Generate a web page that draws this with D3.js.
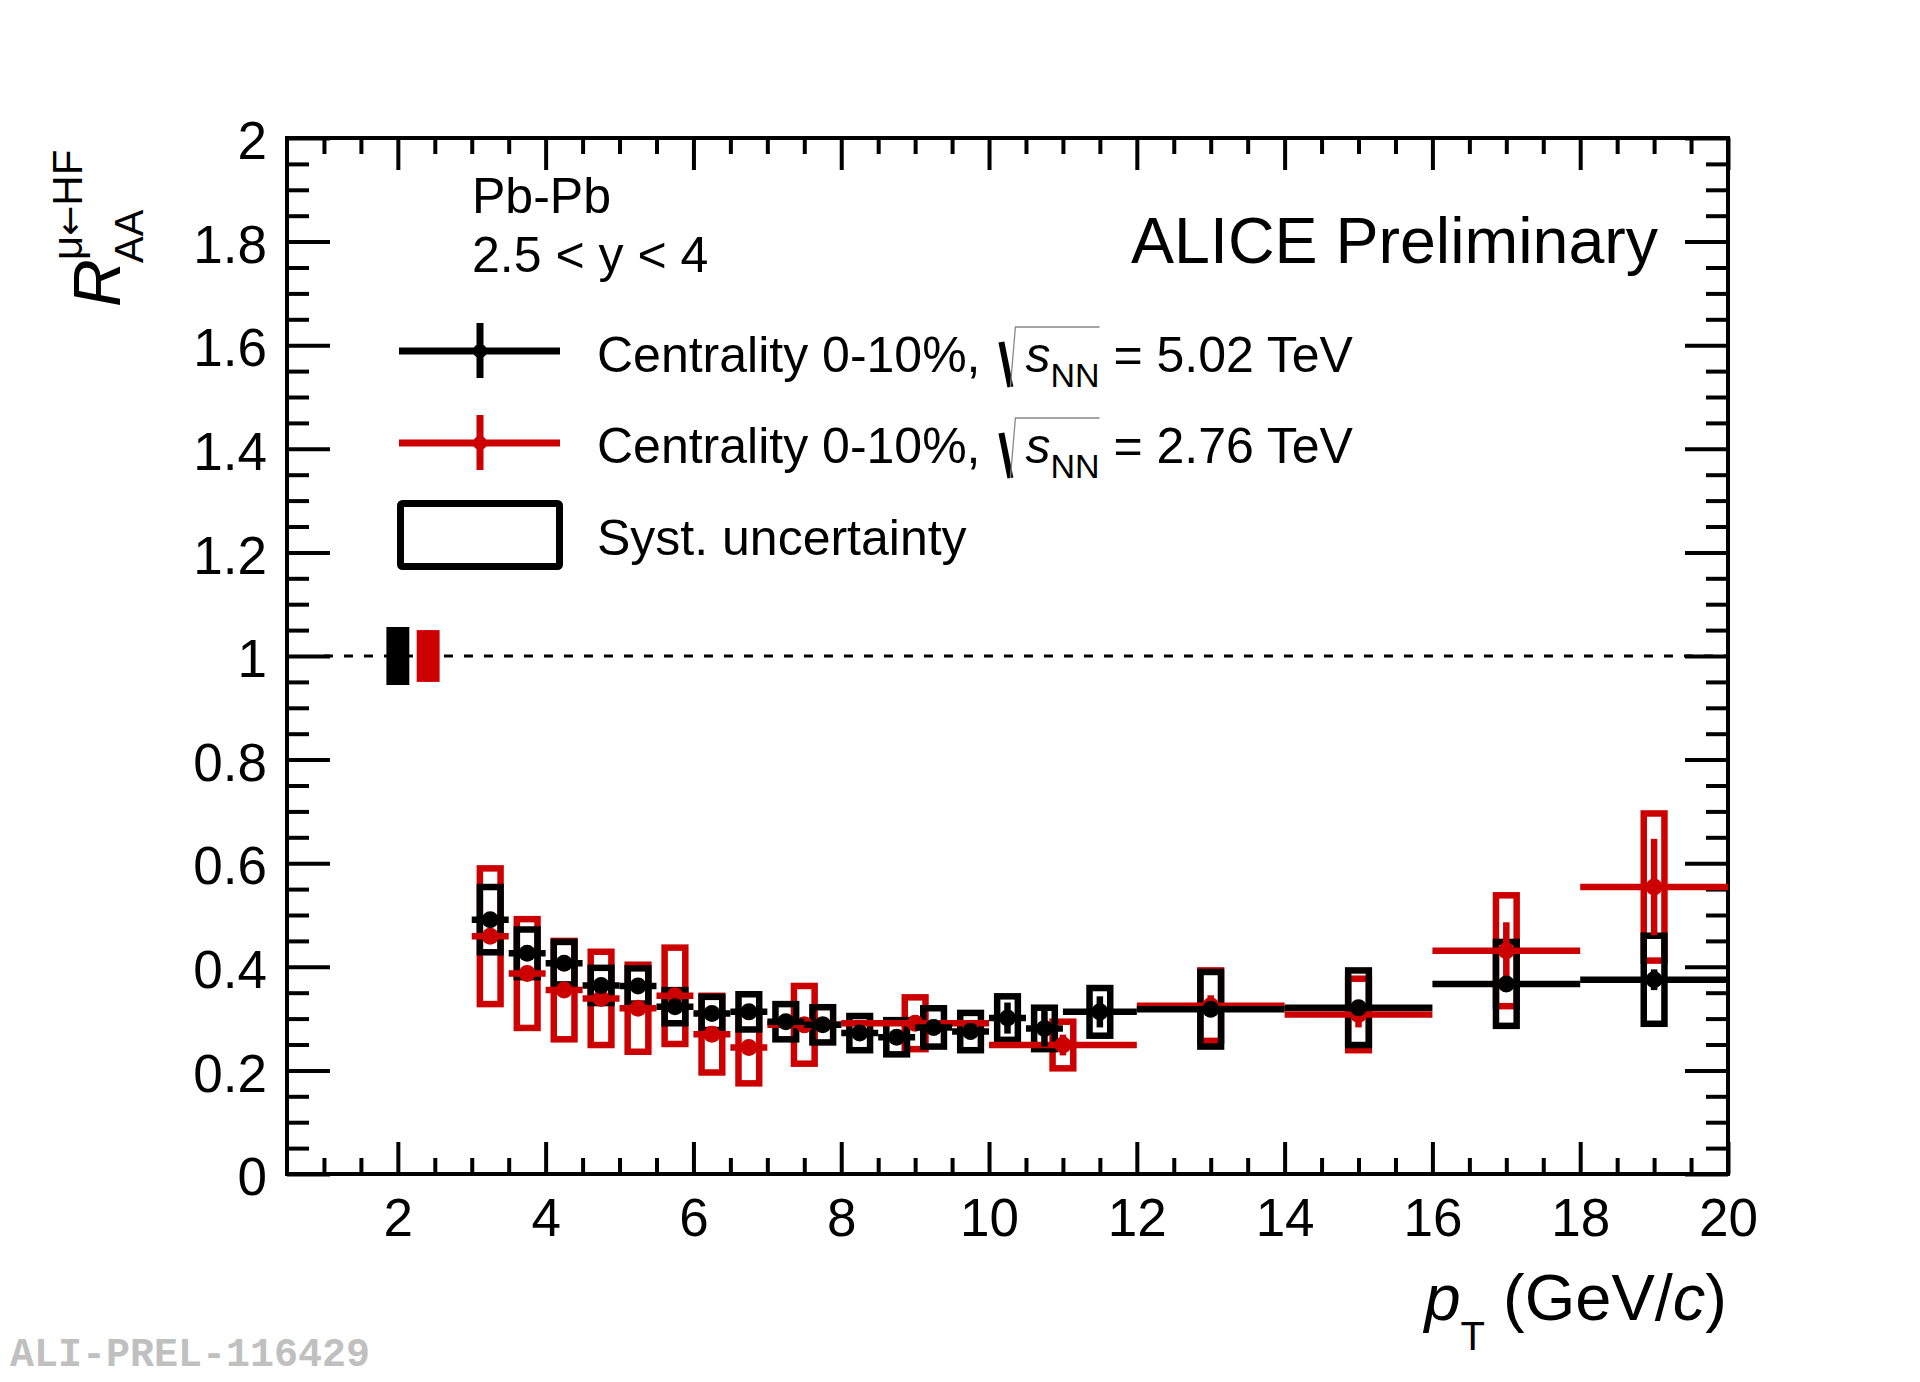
<!DOCTYPE html>
<html>
<head>
<meta charset="utf-8">
<script src="https://cdn.jsdelivr.net/npm/d3@7"></script>
<style>
  body { margin: 0; background: #fff; }
  svg { display: block; font-family: "Liberation Sans", Arial, Helvetica, sans-serif; }
</style>
</head>
<body>
<svg id="chart" width="1920" height="1382"></svg>
<script>
// 5.02 TeV, 0-10%
const ptBlack = [3.25, 3.75, 4.25, 4.75, 5.25, 5.75, 6.25, 6.75, 7.25, 7.75, 8.25, 8.75,
  9.25, 9.75, 10.25, 10.75, 11.5, 13, 15, 17, 19];
const binBlack = [0.25, 0.25, 0.25, 0.25, 0.25, 0.25, 0.25, 0.25, 0.25, 0.25, 0.25, 0.25,
  0.25, 0.25, 0.25, 0.25, 0.5, 1, 1, 1, 1];
const raaBlack = [0.491, 0.426, 0.407, 0.364, 0.363, 0.323, 0.310, 0.313, 0.294, 0.288, 0.272, 0.264,
  0.283, 0.275, 0.301, 0.281, 0.313, 0.318, 0.321, 0.367, 0.375];
const statBlack = [0.008, 0.008, 0.008, 0.008, 0.009, 0.009, 0.010, 0.010, 0.010, 0.010, 0.012, 0.012,
  0.015, 0.015, 0.030, 0.035, 0.030, 0.015, 0.015, 0.015, 0.020];
const systBlack = [0.063, 0.046, 0.041, 0.034, 0.034, 0.032, 0.032, 0.034, 0.034, 0.034, 0.033, 0.033,
  0.037, 0.036, 0.042, 0.040, 0.046, 0.072, 0.072, 0.081, 0.085];

// 2.76 TeV, 0-10%
const ptRed = [3.25, 3.75, 4.25, 4.75, 5.25, 5.75, 6.25, 6.75, 7.5, 9, 11, 13, 15, 17, 19];
const binRed = [0.25, 0.25, 0.25, 0.25, 0.25, 0.25, 0.25, 0.25, 0.5, 1, 1, 1, 1, 1, 1];
const raaRed = [0.459, 0.387, 0.355, 0.339, 0.320, 0.344, 0.270, 0.244, 0.288, 0.291, 0.249,
  0.325, 0.308, 0.431, 0.554];
const statRed = [0.012, 0.012, 0.012, 0.012, 0.013, 0.014, 0.014, 0.014, 0.015, 0.015, 0.020,
  0.020, 0.025, 0.055, 0.093];
const systRed = [0.131, 0.105, 0.095, 0.090, 0.084, 0.093, 0.074, 0.069, 0.075, 0.050, 0.045,
  0.068, 0.069, 0.107, 0.142];

// normalisation uncertainties drawn at R_AA = 1
const normX = [2.0, 2.41];
const normUnc = [0.056, 0.050];

const xMajor = [2, 4, 6, 8, 10, 12, 14, 16, 18, 20];
const yMajor = [0, 0.2, 0.4, 0.6, 0.8, 1, 1.2, 1.4, 1.6, 1.8, 2];

const BLACK = '#000000';
const RED = '#cc0000';

const svg = d3.select('#chart');
const x = d3.scaleLinear().domain([0.5, 20]).range([287, 1728]);
const y = d3.scaleLinear().domain([0, 2]).range([1174, 138]);

const xMinor = d3.range(1, 20, 0.5).filter(v => v % 2 !== 0);
const yMinor = d3.range(0.05, 2, 0.05).map(v => +v.toFixed(2)).filter(v => Math.abs(v * 5 - Math.round(v * 5)) > 1e-6);

function styleAxis(g) {
  g.select('.domain').remove();
  g.selectAll('.tick line').attr('stroke', '#000').attr('stroke-width', 4);
  g.selectAll('.tick text').attr('fill', '#000').attr('font-size', 53);
}

// axes: ticks drawn inward on all four sides
svg.append('g').attr('transform', `translate(0,${y(0)})`)
  .call(d3.axisBottom(x).tickValues(xMajor).tickSizeInner(-32).tickSizeOuter(0).tickPadding(24).tickFormat(d3.format('d')))
  .call(styleAxis);
svg.append('g').attr('transform', `translate(0,${y(0)})`)
  .call(d3.axisBottom(x).tickValues(xMinor).tickSizeInner(-16).tickSizeOuter(0).tickFormat(''))
  .call(styleAxis);
svg.append('g').attr('transform', `translate(0,${y(2)})`)
  .call(d3.axisTop(x).tickValues(xMajor).tickSizeInner(-32).tickSizeOuter(0).tickFormat(''))
  .call(styleAxis);
svg.append('g').attr('transform', `translate(0,${y(2)})`)
  .call(d3.axisTop(x).tickValues(xMinor).tickSizeInner(-16).tickSizeOuter(0).tickFormat(''))
  .call(styleAxis);

const yLeft = svg.append('g').attr('transform', `translate(${x(0.5)},0)`)
  .call(d3.axisLeft(y).tickValues(yMajor).tickSizeInner(-43).tickSizeOuter(0).tickPadding(20)
    .tickFormat(d => d3.format('~g')(d)))
  .call(styleAxis);
yLeft.selectAll('.tick text').attr('dy', '0.39em');
svg.append('g').attr('transform', `translate(${x(0.5)},0)`)
  .call(d3.axisLeft(y).tickValues(yMinor).tickSizeInner(-22).tickSizeOuter(0).tickFormat(''))
  .call(styleAxis);
svg.append('g').attr('transform', `translate(${x(20)},0)`)
  .call(d3.axisRight(y).tickValues(yMajor).tickSizeInner(-43).tickSizeOuter(0).tickFormat(''))
  .call(styleAxis);
svg.append('g').attr('transform', `translate(${x(20)},0)`)
  .call(d3.axisRight(y).tickValues(yMinor).tickSizeInner(-22).tickSizeOuter(0).tickFormat(''))
  .call(styleAxis);

svg.append('rect')
  .attr('x', x(0.5)).attr('y', y(2))
  .attr('width', x(20) - x(0.5)).attr('height', y(0) - y(2))
  .attr('fill', 'none').attr('stroke', '#000').attr('stroke-width', 4);

// reference line at 1
svg.append('line')
  .attr('x1', x(1)).attr('x2', x(20)).attr('y1', y(1)).attr('y2', y(1))
  .attr('stroke', '#000').attr('stroke-width', 3).attr('stroke-dasharray', '9 11');

// normalisation boxes
svg.append('g').selectAll('rect').data(normX).join('rect')
  .attr('x', d => x(d - 0.155)).attr('width', d => x(d + 0.155) - x(d - 0.155))
  .attr('y', (d, i) => y(1 + normUnc[i])).attr('height', (d, i) => y(1 - normUnc[i]) - y(1 + normUnc[i]))
  .attr('fill', (d, i) => i === 0 ? BLACK : RED);

const boxHalf = 0.14;
function drawBoxes(pt, raa, syst, color) {
  svg.append('g').selectAll('rect').data(pt).join('rect')
    .attr('x', d => x(d - boxHalf)).attr('width', d => x(d + boxHalf) - x(d - boxHalf))
    .attr('y', (d, i) => y(raa[i] + syst[i])).attr('height', (d, i) => y(raa[i] - syst[i]) - y(raa[i] + syst[i]))
    .attr('fill', 'none').attr('stroke', color).attr('stroke-width', 6.5);
}
function drawPoints(pt, bin, raa, stat, color) {
  const g = svg.append('g');
  g.selectAll('line.h').data(pt).join('line').attr('class', 'h')
    .attr('x1', (d, i) => x(d - bin[i])).attr('x2', (d, i) => x(d + bin[i]))
    .attr('y1', (d, i) => y(raa[i])).attr('y2', (d, i) => y(raa[i]))
    .attr('stroke', color).attr('stroke-width', 6.5);
  g.selectAll('line.v').data(pt).join('line').attr('class', 'v')
    .attr('x1', d => x(d)).attr('x2', d => x(d))
    .attr('y1', (d, i) => y(raa[i] - stat[i])).attr('y2', (d, i) => y(raa[i] + stat[i]))
    .attr('stroke', color).attr('stroke-width', 6.5);
  g.selectAll('circle').data(pt).join('circle')
    .attr('cx', d => x(d)).attr('cy', (d, i) => y(raa[i])).attr('r', 8.5)
    .attr('fill', color);
}
drawBoxes(ptRed, raaRed, systRed, RED);
drawBoxes(ptBlack, raaBlack, systBlack, BLACK);
drawPoints(ptRed, binRed, raaRed, statRed, RED);
drawPoints(ptBlack, binBlack, raaBlack, statBlack, BLACK);

// texts
svg.append('text').attr('x', 1658).attr('y', 263).attr('text-anchor', 'end')
  .attr('font-size', 64.5).text('ALICE Preliminary');
svg.append('text').attr('x', 472).attr('y', 213).attr('font-size', 50).text('Pb-Pb');
svg.append('text').attr('x', 472).attr('y', 272).attr('font-size', 50).text('2.5 < y < 4');

// legend
const legendRows = [
  {color: BLACK, energy: '5.02', yc: 351, base: 372},
  {color: RED, energy: '2.76', yc: 443, base: 463}
];
legendRows.forEach(r => {
  svg.append('line').attr('x1', 399).attr('x2', 560).attr('y1', r.yc).attr('y2', r.yc)
    .attr('stroke', r.color).attr('stroke-width', 7);
  svg.append('line').attr('x1', 480).attr('x2', 480).attr('y1', r.yc - 28).attr('y2', r.yc + 27)
    .attr('stroke', r.color).attr('stroke-width', 7);
  svg.append('circle').attr('cx', 480).attr('cy', r.yc).attr('r', 7).attr('fill', r.color);

  const t = svg.append('text').attr('x', 597).attr('y', r.base).attr('font-size', 50);
  t.append('tspan').text('Centrality 0-10%, ');
  t.append('tspan').attr('dx', 31).attr('font-style', 'italic').text('s');
  t.append('tspan').attr('dy', 15).attr('font-size', 34).text('NN');
  t.append('tspan').attr('dy', -15).text(' = ' + r.energy + ' TeV');
  const node = t.node();
  const sx = node.getStartPositionOfChar(18).x;
  const ex = node.getEndPositionOfChar(20).x;
  const b = r.base;
  svg.append('path')
    .attr('d', `M${sx - 24},${b - 30} L${sx - 15},${b + 15}`)
    .attr('stroke', '#000').attr('stroke-width', 6).attr('fill', 'none');
  svg.append('path')
    .attr('d', `M${sx - 15},${b + 15} L${sx - 10},${b - 45} L${ex},${b - 45}`)
    .attr('stroke', '#888').attr('stroke-width', 1.3).attr('fill', 'none');
});
svg.append('rect').attr('x', 400.5).attr('y', 503.5).attr('width', 159).attr('height', 63)
  .attr('fill', 'none').attr('stroke', '#000').attr('stroke-width', 7).attr('rx', 2);
svg.append('text').attr('x', 597).attr('y', 555).attr('font-size', 50).text('Syst. uncertainty');

// x title
const xt = svg.append('text').attr('x', 1727).attr('y', 1320).attr('text-anchor', 'end').attr('font-size', 65);
xt.append('tspan').attr('font-style', 'italic').text('p');
xt.append('tspan').attr('dy', 30).attr('font-size', 40).text('T');
xt.append('tspan').attr('dy', -30).text(' (GeV/');
xt.append('tspan').attr('font-style', 'italic').text('c');
xt.append('tspan').text(')');

// y title
const yt = svg.append('g').attr('transform', 'translate(120,307) rotate(-90)');
yt.append('text').attr('x', 0).attr('y', 0).attr('font-size', 66).attr('font-style', 'italic').text('R');
yt.append('text').attr('x', 47).attr('y', -38).attr('font-size', 42)
  .call(t => {
    t.append('tspan').text('\u03bc');
    t.append('tspan').attr('font-family', '"DejaVu Sans", sans-serif').attr('font-size', 36).text('\u2190');
    t.append('tspan').text('HF');
  });
yt.append('text').attr('x', 44).attr('y', 23).attr('font-size', 40).text('AA');

// watermark
svg.append('text').attr('x', 10).attr('y', 1366)
  .attr('font-family', '"Liberation Mono", "DejaVu Sans Mono", monospace')
  .attr('font-weight', 'bold').attr('font-size', 40).attr('fill', '#c0c0c0')
  .text('ALI-PREL-116429');
</script>
</body>
</html>
